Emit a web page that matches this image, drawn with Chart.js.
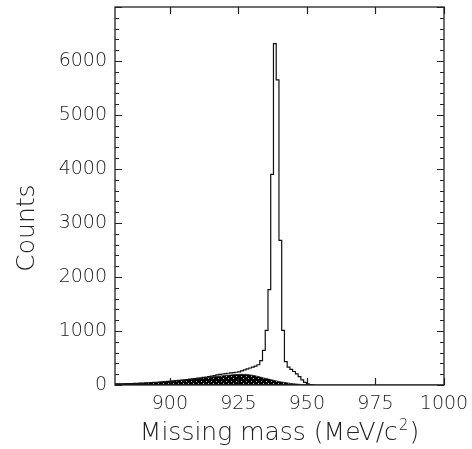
<!DOCTYPE html>
<html>
<head>
<meta charset="utf-8">
<script src="https://cdn.jsdelivr.net/npm/chart.js@4.4.1/dist/chart.umd.min.js"></script>
<style>
html,body{margin:0;padding:0;background:#fff;}
canvas{display:block;}
</style>
</head>
<body>
<canvas id="massChart" width="472" height="449"></canvas>
<script>
// histogram: 1 MeV bins, left edge of first bin
const binStart=879.8;
const binWidth=1;
const totalCounts=[
 18,19,20,21,22,24,25,27,29,31,
 34,36,39,42,45,48,51,55,58,62,
 66,70,75,80,85,90,96,102,108,114,
 120,127,134,141,148,156,164,174,186,196,
 204,212,218,224,230,236,244,262,280,298,
 315,332,350,375,450,640,1010,1765,3900,6320,
 5650,2680,1010,433,330,290,250,205,155,95,
 50,22,8,3
];
// background shape (shaded)
const shadeMass=[880,882,884,886,888,890,892,894,896,898,900,902,904,906,908,910,912,914,916,918,920,922,924,926,928,930,932,934,936,938,940,942,944,946,948,950,952];
const shadeCounts=[18,20,22,25,28,32,37,43,50,57,65,74,84,94,105,116,128,140,152,164,175,185,193,198,196,182,160,132,110,85,62,45,30,18,10,4,0];
const xTicks=[900,925,950,975,1000];
const yTicks=[0,1000,2000,3000,4000,5000,6000];
const xMin=880, xMax=1000, yMin=0, yMax=7000;

const FONT='DejaVu Sans';
const INK='#222';

function makeShade(){
    const c=document.createElement('canvas');
    c.width=5; c.height=5;
    const g=c.getContext('2d');
    g.fillStyle='#000';
    g.fillRect(0,0,5,5);
    g.fillStyle='#bbb';
    g.fillRect(1,1,1,1);
    g.fillRect(3,3,1,1);
    return g.createPattern(c,'repeat');
}

const histPoints=totalCounts.map((c,i)=>({x:binStart+i*binWidth,y:c}));
histPoints.push({x:binStart+totalCounts.length*binWidth,y:0});
histPoints.push({x:xMax,y:0});
const shadePoints=shadeMass.map((m,i)=>({x:m,y:shadeCounts[i]}));

const frameTicks={
    id:'frameTicks',
    afterDatasetsDraw(chart){
        const {ctx,chartArea:a,scales}=chart;
        const x=scales.x, y=scales.y;
        ctx.save();
        ctx.strokeStyle=INK;
        ctx.lineWidth=1.3;
        ctx.strokeRect(a.left,a.top,a.right-a.left,a.bottom-a.top);
        ctx.beginPath();
        xTicks.forEach(v=>{
            const px=Math.round(x.getPixelForValue(v))+0.5;
            ctx.moveTo(px,a.bottom); ctx.lineTo(px,a.bottom-7);
            ctx.moveTo(px,a.top); ctx.lineTo(px,a.top+7);
        });
        for(let v=yMin;v<=yMax;v+=200){
            const len=(v%1000===0)?7:4;
            const py=Math.round(y.getPixelForValue(v))+0.5;
            ctx.moveTo(a.left,py); ctx.lineTo(a.left+len,py);
            ctx.moveTo(a.right,py); ctx.lineTo(a.right-len,py);
        }
        ctx.lineWidth=1.2;
        ctx.stroke();
        ctx.restore();
    },
    afterDraw(chart){
        const {ctx,chartArea:a}=chart;
        ctx.save();
        ctx.fillStyle=INK;
        // y title
        ctx.font='200 25px "'+FONT+'"';
        ctx.textAlign='center';
        ctx.textBaseline='middle';
        ctx.translate(27,228);
        ctx.rotate(-Math.PI/2);
        ctx.fillText('Counts',0,0);
        ctx.restore();
        // x title with superscript
        ctx.save();
        ctx.fillStyle=INK;
        ctx.textBaseline='alphabetic';
        ctx.textAlign='left';
        const main='Missing mass (MeV/c', sup='2', tail=')';
        ctx.font='200 25px "'+FONT+'"';
        const w1=ctx.measureText(main).width, w3=ctx.measureText(tail).width;
        ctx.font='200 15px "'+FONT+'"';
        const w2=ctx.measureText(sup).width+2;
        const cx=(a.left+a.right)/2;
        let sx=cx-(w1+w2+w3)/2;
        const base=440;
        ctx.font='200 25px "'+FONT+'"';
        ctx.fillText(main,sx,base);
        ctx.font='200 15px "'+FONT+'"';
        ctx.fillText(sup,sx+w1+1,base-10);
        ctx.font='200 25px "'+FONT+'"';
        ctx.fillText(tail,sx+w1+w2,base);
        ctx.restore();
    }
};

const ctx=document.getElementById('massChart').getContext('2d');
new Chart(ctx,{
    type:'line',
    data:{
        datasets:[
            {
                label:'all',
                data:histPoints,
                stepped:'after',
                borderColor:'#111',
                borderWidth:1.2,
                fill:false,
                pointRadius:0
            },
            {
                label:'background',
                data:shadePoints,
                borderColor:'#111',
                borderWidth:0.8,
                backgroundColor:makeShade(),
                fill:'origin',
                pointRadius:0,
                tension:0
            }
        ]
    },
    options:{
        responsive:false,
        animation:false,
        layout:{padding:{left:0,right:28,top:7,bottom:0}},
        plugins:{legend:{display:false},tooltip:{enabled:false}},
        scales:{
            x:{
                type:'linear',
                min:xMin,max:xMax,
                grid:{display:false,drawTicks:false},
                border:{display:false},
                afterBuildTicks:s=>{s.ticks=xTicks.map(v=>({value:v}));},
                afterFit:s=>{s.height=64;s.paddingLeft=0;s.paddingRight=0;},
                ticks:{
                    color:INK,padding:8,maxRotation:0,autoSkip:false,
                    callback:v=>String(v),
                    font:{family:FONT,size:19,weight:'200'}
                }
            },
            y:{
                type:'linear',
                min:yMin,max:yMax,
                grid:{display:false,drawTicks:false},
                border:{display:false},
                afterBuildTicks:s=>{s.ticks=yTicks.map(v=>({value:v}));},
                afterFit:s=>{s.width=115;s.paddingTop=0;s.paddingBottom=0;},
                ticks:{
                    color:INK,padding:8,autoSkip:false,
                    callback:v=>String(v),
                    font:{family:FONT,size:19,weight:'200'}
                }
            }
        }
    },
    plugins:[frameTicks]
});
</script>
</body>
</html>
